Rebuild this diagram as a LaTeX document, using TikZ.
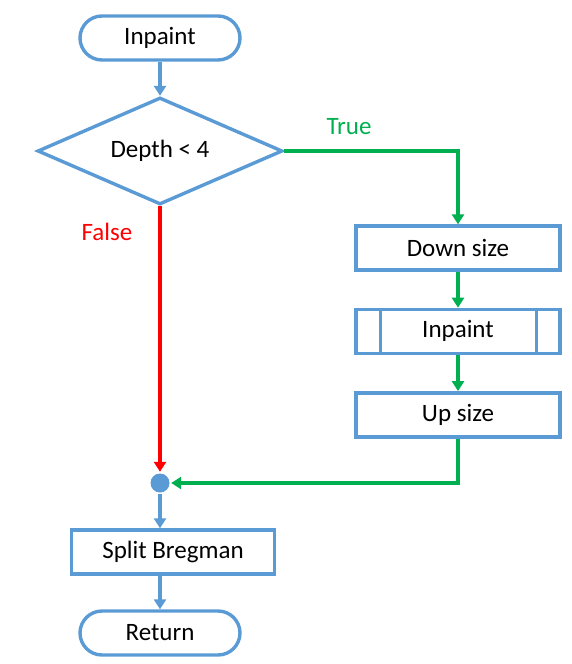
\documentclass[tikz,border=0pt]{standalone}
\usepackage{fontspec}
\setmainfont{Carlito}
\usetikzlibrary{shapes.geometric,arrows.meta,positioning}
\definecolor{flowblue}{HTML}{5B9BD5}
\definecolor{flowgreen}{HTML}{00B050}
\definecolor{flowred}{HTML}{FF0000}
\tikzset{
  term/.style={draw=flowblue, rectangle, rounded corners=22pt, minimum width=160pt, minimum height=44pt},
  decision/.style={draw=flowblue, diamond, aspect=2.3, minimum width=245pt, minimum height=107pt, inner sep=0pt},
  process/.style={draw=flowblue, rectangle, minimum width=204pt, minimum height=44pt},
  joint/.style={fill=flowblue, circle, minimum size=19pt, inner sep=0pt},
}
\begin{document}
\begin{tikzpicture}[x=1pt, y=-1pt, node distance=36pt, line width=3.4pt, ->, >={Triangle[length=10pt,width=12pt]}, font=\fontsize{25pt}{30pt}\selectfont]
\useasboundingbox (0,0) rectangle (572,664);
\node (start) [term] at (160,38) {Inpaint};
\node (depth) [decision] at (160,151) {Depth < 4};
\node (truelbl) [flowgreen] at (349,127) {True};
\node (falselbl) [flowred] at (107,232) {False};
\node (down) [process] at (458,248) {Down size};
\node (sub) [process, below=of down] {Inpaint};
\node (up) [process, below=of sub] {Up size};
\node (dot) [joint] at (160,483) {};
\node (split) [process, minimum width=203pt] at (173,552) {Split Bregman};
\node (ret) [term] at (160,633) {Return};
\draw[-, flowblue] ([xshift=26pt]sub.north west) -- ([xshift=26pt]sub.south west);
\draw[-, flowblue] ([xshift=-25pt]sub.north east) -- ([xshift=-25pt]sub.south east);
\draw[flowblue] (start) -- (depth);
\draw[flowgreen] (depth.east) -| (down.north);
\draw[flowred] (depth.south) -- (dot.north);
\draw[flowgreen] (down) -- (sub);
\draw[flowgreen] (sub) -- (up);
\draw[flowgreen] (up.south) |- (dot.east);
\draw[flowblue] (dot.south) -- (dot.south |- split.north);
\draw[flowblue] (ret.north |- split.south) -- (ret.north);
\end{tikzpicture}
\end{document}
